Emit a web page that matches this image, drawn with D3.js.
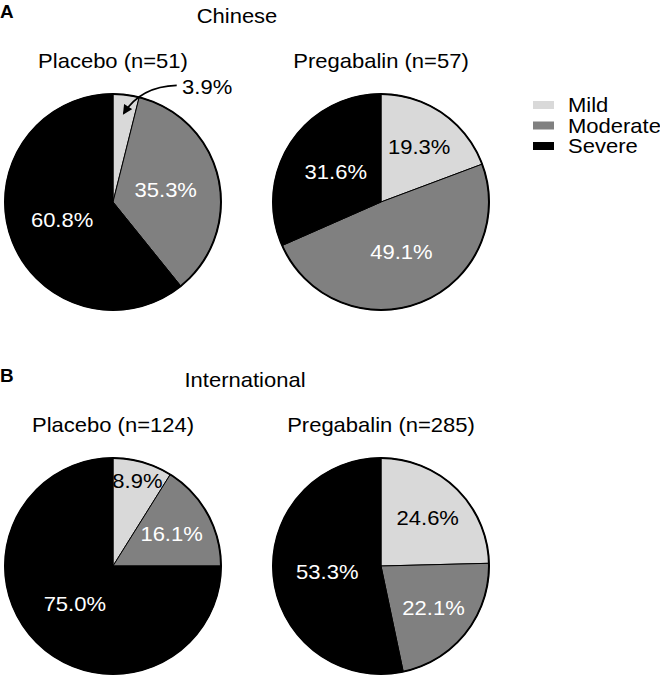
<!DOCTYPE html>
<html>
<head>
<meta charset="utf-8">
<script src="https://cdn.jsdelivr.net/npm/d3@7"></script>
<style>
  html, body { margin: 0; padding: 0; background: #fff; }
  svg text { font-family: "Liberation Sans", Arial, Helvetica, sans-serif; }
</style>
</head>
<body>
<svg id="chart" width="660" height="677"></svg>
<script>
// ---- data ----
const categories = ["Mild", "Moderate", "Severe"];
const groupTitles = ["Chinese", "International"];
const panelLetters = ["A", "B"];
const armTitles = [
  ["Placebo (n=51)", "Pregabalin (n=57)"],
  ["Placebo (n=124)", "Pregabalin (n=285)"]
];
const chinesePlacebo = [3.9, 35.3, 60.8];
const chinesePregabalin = [19.3, 49.1, 31.6];
const intlPlacebo = [8.9, 16.1, 75.0];
const intlPregabalin = [24.6, 22.1, 53.3];
const seriesValues = [
  [chinesePlacebo, chinesePregabalin],
  [intlPlacebo, intlPregabalin]
];

// ---- layout ----
const svg = d3.select("#chart");
const R = 108;
const colX = [113, 381];
const rowY = [202, 566];
const stretch = 1.1; // text in the reference is slightly wider than Arial
const fs = 20;

const color = d3.scaleOrdinal(categories, ["#d9d9d9", "#808080", "#000000"]);
const labelColor = d3.scaleOrdinal(categories, ["#000000", "#ffffff", "#ffffff"]);

const pie = d3.pie().sort(null).value(d => d.v);
const arc = d3.arc().innerRadius(0).outerRadius(R);

function txt(g, x, y, s, opts = {}) {
  return g.append("text")
    .attr("transform", `translate(${x},${y}) scale(${opts.sx ?? stretch},1)`)
    .attr("text-anchor", opts.anchor || "middle")
    .attr("font-size", opts.size || fs)
    .attr("font-weight", opts.weight || "normal")
    .attr("fill", opts.fill || "#000")
    .text(s);
}

svg.append("defs").append("marker")
  .attr("id", "arrowhead")
  .attr("viewBox", "0 0 10 10")
  .attr("refX", 8).attr("refY", 5)
  .attr("markerWidth", 6.5).attr("markerHeight", 6)
  .attr("orient", "auto")
  .append("path").attr("d", "M0,0 L10,5 L0,10 z").attr("fill", "#000");

seriesValues.forEach((row, ri) => {
  const cy = rowY[ri];
  // panel letter & group title
  txt(svg, 0, cy - 184, panelLetters[ri], { anchor: "start", size: 18, weight: "bold", sx: 1.05 });
  txt(svg, ri === 0 ? 237 : 245, cy - 179, groupTitles[ri]);

  row.forEach((vals, ci) => {
    const cx = colX[ci];
    const g = svg.append("g").attr("transform", `translate(${cx},${cy})`);
    const data = categories.map((c, i) => ({ cat: c, v: vals[i] }));
    const arcs = pie(data);

    txt(svg, cx, cy - 134, armTitles[ri][ci]);

    g.selectAll("path.slice").data(arcs).join("path")
      .attr("class", "slice")
      .attr("d", arc)
      .attr("fill", d => color(d.data.cat))
      .attr("stroke", "#000")
      .attr("stroke-width", 1);
    g.append("circle").attr("r", R).attr("fill", "none")
      .attr("stroke", "#000").attr("stroke-width", 2);

    arcs.forEach(d => {
      const pct = d.data.v;
      const label = pct.toFixed(1) + "%";
      const mid = (d.startAngle + d.endAngle) / 2;
      if (pct < 5) {
        // outside label with curved arrow
        const tx = 0.64 * R, ty = -R;
        txt(g, tx, ty, label, { anchor: "start" });
        const lr = 0.83 * R;
        const ex = Math.sin(mid) * lr, ey = -Math.cos(mid) * lr;
        const p = d3.path();
        p.moveTo(0.59 * R, -1.08 * R);
        p.quadraticCurveTo(0.26 * R, -1.07 * R, ex, ey);
        g.append("path").attr("d", p.toString())
          .attr("fill", "none").attr("stroke", "#000").attr("stroke-width", 1.6)
          .attr("marker-end", "url(#arrowhead)");
      } else {
        const lr = pct > 30 ? 0.5 * R : (pct > 12 ? 0.62 * R : 0.82 * R);
        const x = Math.sin(mid) * lr, y = -Math.cos(mid) * lr;
        txt(g, x, y + 7, label, { fill: labelColor(d.data.cat) });
      }
    });
  });
});

// legend
const legend = svg.append("g").attr("transform", "translate(533,101)");
categories.forEach((c, i) => {
  legend.append("rect").attr("x", 0).attr("y", i * 20.5).attr("width", 21).attr("height", 8)
    .attr("fill", color(c));
  txt(legend, 35, i * 20.5 + 11, c, { anchor: "start" });
});
</script>
</body>
</html>
